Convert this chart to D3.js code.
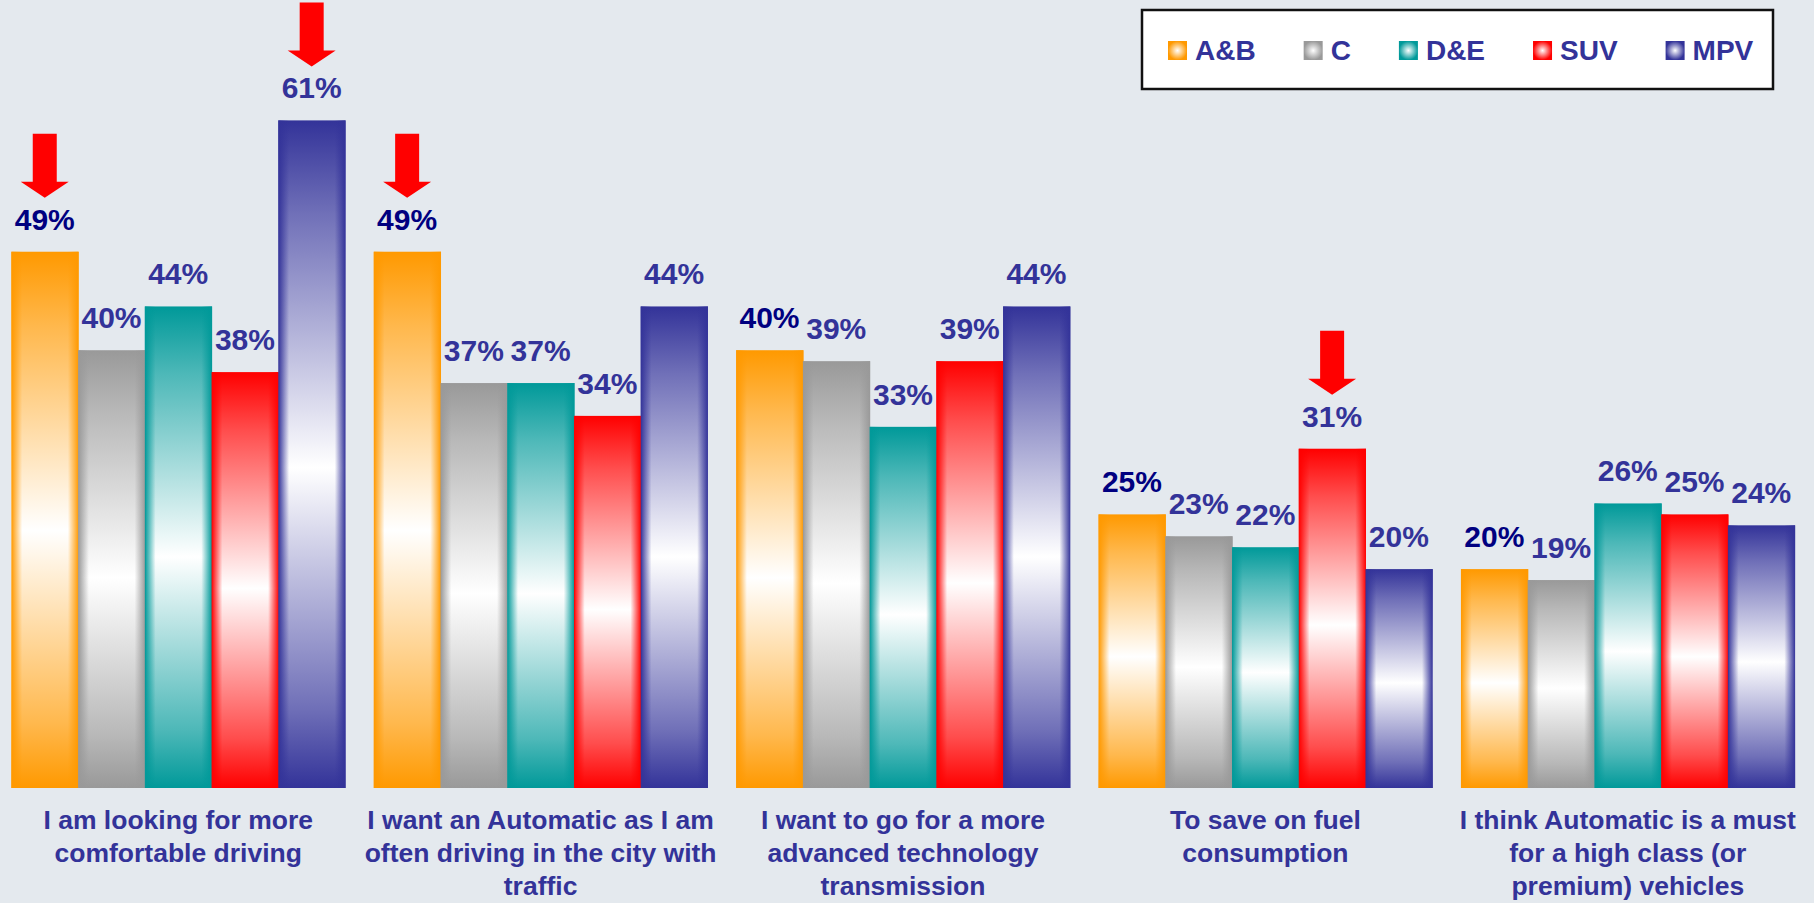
<!DOCTYPE html>
<html>
<head>
<meta charset="utf-8">
<script src="https://cdn.jsdelivr.net/npm/d3@7"></script>
<style>
  html, body { margin: 0; padding: 0; background: #e4e9ee; }
  svg { display: block; }
  text { font-family: "Liberation Sans", Arial, sans-serif; font-weight: bold; }
</style>
</head>
<body>
<svg id="chart" width="1814" height="903"></svg>
<script>
// ---- data ----
const categories = [
  ["I am looking for more", "comfortable driving"],
  ["I want an Automatic as I am", "often driving in the city with", "traffic"],
  ["I want to go for a more", "advanced technology", "transmission"],
  ["To save on fuel", "consumption"],
  ["I think Automatic is a must", "for a high class (or", "premium) vehicles"]
];
const seriesNames = ["A&B", "C", "D&E", "SUV", "MPV"];
const valuesAB  = [49, 49, 40, 25, 20];
const valuesC   = [40, 37, 39, 23, 19];
const valuesDE  = [44, 37, 33, 22, 26];
const valuesSUV = [38, 34, 39, 31, 25];
const valuesMPV = [61, 44, 44, 20, 24];
const seriesValues = [valuesAB, valuesC, valuesDE, valuesSUV, valuesMPV];
const seriesColors = ["#ff9900", "#999999", "#009999", "#ff0000", "#333399"];
const labelColors  = ["#000080", "#333399", "#333399", "#333399", "#333399"];
// highlighted bars (red arrows): [category index, series index]
const highlights = [[0, 0], [0, 4], [1, 0], [3, 3]];

// ---- layout ----
const svg = d3.select("#chart");
const W = 1814, H = 903;
const baseY = 788;

svg.append("rect").attr("width", W).attr("height", H).attr("fill", "#e4e9ee");

const x0 = d3.scaleBand()
  .domain(d3.range(categories.length))
  .range([-3, 1809])
  .paddingInner(0.0793)
  .paddingOuter(0.0397);
const x1 = d3.scaleBand()
  .domain(d3.range(seriesNames.length))
  .range([0, x0.bandwidth()])
  .padding(0);
const y = d3.scaleLinear().domain([0, 72]).range([baseY, 0]);

// gradients
const defs = svg.append("defs");
seriesColors.forEach((c, i) => {
  const gv = defs.append("linearGradient").attr("id", "gv" + i)
    .attr("x1", 0).attr("y1", 0).attr("x2", 0).attr("y2", 1);
  gv.append("stop").attr("offset", "0%").attr("stop-color", c);
  gv.append("stop").attr("offset", "14%").attr("stop-color", d3.interpolateRgb(c, "#fff")(0.3));
  gv.append("stop").attr("offset", "52%").attr("stop-color", "#ffffff");
  gv.append("stop").attr("offset", "88%").attr("stop-color", d3.interpolateRgb(c, "#fff")(0.3));
  gv.append("stop").attr("offset", "100%").attr("stop-color", c);

  const gh = defs.append("linearGradient").attr("id", "gh" + i)
    .attr("x1", 0).attr("y1", 0).attr("x2", 1).attr("y2", 0);
  gh.append("stop").attr("offset", "0%").attr("stop-color", c).attr("stop-opacity", 1);
  gh.append("stop").attr("offset", "16%").attr("stop-color", c).attr("stop-opacity", 0);
  gh.append("stop").attr("offset", "84%").attr("stop-color", c).attr("stop-opacity", 0);
  gh.append("stop").attr("offset", "100%").attr("stop-color", c).attr("stop-opacity", 1);

  const gr = defs.append("radialGradient").attr("id", "gr" + i);
  gr.append("stop").attr("offset", "0%").attr("stop-color", "#ffffff");
  gr.append("stop").attr("offset", "100%").attr("stop-color", c);
});

// bars
const groups = svg.selectAll("g.cat")
  .data(categories)
  .join("g")
  .attr("class", "cat")
  .attr("transform", (d, i) => `translate(${x0(i)},0)`);

groups.each(function(cat, ci) {
  const g = d3.select(this);
  const bars = seriesNames.map((s, si) => ({ si, v: seriesValues[si][ci] }));
  g.selectAll("rect.bv").data(bars).join("rect")
    .attr("class", "bv")
    .attr("x", d => x1(d.si))
    .attr("y", d => y(d.v))
    .attr("width", x1.bandwidth() + 0.5)
    .attr("height", d => baseY - y(d.v))
    .attr("fill", d => `url(#gv${d.si})`);
  g.selectAll("rect.bh").data(bars).join("rect")
    .attr("class", "bh")
    .attr("x", d => x1(d.si))
    .attr("y", d => y(d.v))
    .attr("width", x1.bandwidth() + 0.5)
    .attr("height", d => baseY - y(d.v))
    .attr("fill", d => `url(#gh${d.si})`);
  g.selectAll("text.val").data(bars).join("text")
    .attr("class", "val")
    .attr("x", d => x1(d.si) + x1.bandwidth() / 2)
    .attr("y", d => y(d.v) - 22)
    .attr("text-anchor", "middle")
    .attr("font-size", 30)
    .attr("fill", d => labelColors[d.si])
    .text(d => d.v + "%");

  // category label
  const t = g.append("text")
    .attr("x", x0.bandwidth() / 2)
    .attr("y", 829)
    .attr("text-anchor", "middle")
    .attr("font-size", 26.5)
    .attr("fill", "#333399");
  cat.forEach((line, li) => {
    t.append("tspan").attr("x", x0.bandwidth() / 2).attr("y", 829 + li * 33).text(line);
  });
});

// arrows
const arrowGap = 54, shaftW = 24, headW = 48, headH = 16, shaftH = 48;
svg.selectAll("path.arrow").data(highlights).join("path")
  .attr("class", "arrow")
  .attr("fill", "#ff0000")
  .attr("d", ([ci, si]) => {
    const cx = x0(ci) + x1(si) + x1.bandwidth() / 2;
    const tip = y(seriesValues[si][ci]) - arrowGap;
    const top = tip - headH - shaftH;
    return `M${cx - shaftW / 2},${top} L${cx + shaftW / 2},${top} L${cx + shaftW / 2},${tip - headH}
            L${cx + headW / 2},${tip - headH} L${cx},${tip} L${cx - headW / 2},${tip - headH}
            L${cx - shaftW / 2},${tip - headH} Z`;
  });

// legend
const legend = svg.append("g");
legend.append("rect")
  .attr("x", 1142).attr("y", 10).attr("width", 631).attr("height", 79)
  .attr("fill", "#ffffff").attr("stroke", "#111111").attr("stroke-width", 2.5);
let lx = 1168;
seriesNames.forEach((s, i) => {
  legend.append("rect").attr("x", lx).attr("y", 41).attr("width", 19).attr("height", 19)
    .attr("fill", `url(#gr${i})`);
  const tt = legend.append("text").attr("x", lx + 27).attr("y", 60)
    .attr("font-size", 28).attr("fill", "#333399").text(s);
  lx = lx + 27 + tt.node().getComputedTextLength() + 48;
});
</script>
</body>
</html>
